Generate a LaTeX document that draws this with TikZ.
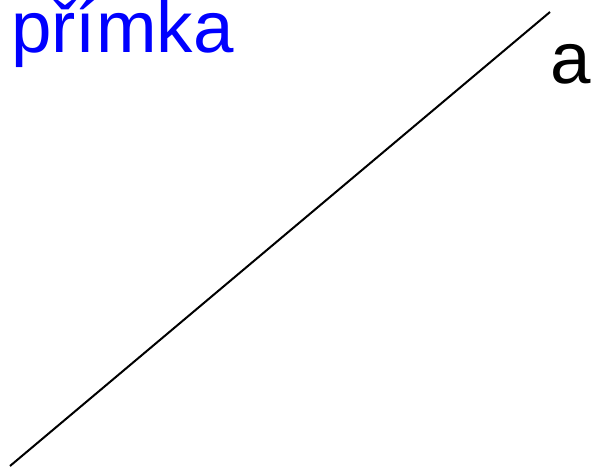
\documentclass[tikz,border=0pt]{standalone}
\usepackage{fontspec}
\setmainfont{Liberation Sans}
\usetikzlibrary{positioning}

\begin{document}
\begin{tikzpicture}[x=1bp,y=-1bp,
label/.style={inner sep=0pt,anchor=base west,font=\fontsize{73}{88}\selectfont},
line/.style={line width=2bp}]
\useasboundingbox (0,0) rectangle (592,468);
\node[label,text=blue] (title) at (11,53) {přímka};
\node[label] (name) at (550,84) {a};
\coordinate (lower) at (10,466);
\coordinate (upper) at (550,12);
\draw[line] (lower) -- (upper);
\end{tikzpicture}
\end{document}
